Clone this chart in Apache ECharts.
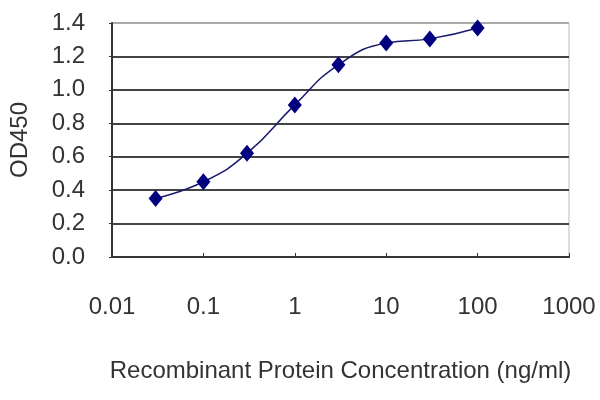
<!DOCTYPE html>
<html>
<head>
<meta charset="utf-8">
<script src="https://cdn.jsdelivr.net/npm/echarts@6/dist/echarts.min.js"></script>
<style>
html, body { margin: 0; padding: 0; background: #fff; }
#chart { width: 600px; height: 400px; }
</style>
</head>
<body>
<div id="chart"></div>
<script>
// 浓度 (ng/ml) 与 OD450 读数
var concentrations = [0.03, 0.1, 0.3, 1, 3, 10, 30, 100];
var od450 = [0.35, 0.45, 0.62, 0.91, 1.15, 1.28, 1.305, 1.37];
var xTickLabels = ['0.01', '0.1', '1', '10', '100', '1000'];
var yTickLabels = ['0.0', '0.2', '0.4', '0.6', '0.8', '1.0', '1.2', '1.4'];

var chartManager = {
    initChart: function () {
        var myChart = echarts.init(document.getElementById('chart'));
        var points = [];
        for (var i = 0; i < concentrations.length; i++) {
            points.push([concentrations[i], od450[i]]);
        }
        var textStyle = { fontFamily: 'Liberation Sans, Arial, sans-serif', fontSize: 24, color: '#333' };
        var option = {
            animation: false,
            grid: {
                left: 111, top: 23, right: 31, bottom: 143,
                show: true, borderColor: '#bbb', borderWidth: 1
            },
            xAxis: {
                type: 'log',
                logBase: 10,
                min: 0.01,
                max: 1000,
                name: 'Recombinant Protein Concentration (ng/ml)',
                nameLocation: 'middle',
                nameGap: 102,
                nameTextStyle: textStyle,
                axisLine: { lineStyle: { color: '#333', width: 2 } },
                axisTick: { inside: true, length: 4, lineStyle: { color: '#333' } },
                axisLabel: {
                    margin: 38,
                    fontFamily: textStyle.fontFamily, fontSize: 24, color: '#333',
                    formatter: function (v) {
                        var idx = Math.round(Math.log(v) / Math.LN10) + 2;
                        return xTickLabels[idx] || '';
                    }
                },
                splitLine: { show: false }
            },
            yAxis: {
                type: 'value',
                min: 0,
                max: 1.4,
                interval: 0.2,
                name: 'OD450',
                nameLocation: 'middle',
                nameGap: 80,
                nameTextStyle: textStyle,
                axisLine: { show: true, lineStyle: { color: '#333', width: 2 } },
                axisTick: { show: true, length: 3, lineStyle: { color: '#333' } },
                axisLabel: {
                    margin: 27,
                    fontFamily: textStyle.fontFamily, fontSize: 24, color: '#333',
                    formatter: function (v) {
                        return yTickLabels[Math.round(v / 0.2)];
                    }
                },
                splitLine: {
                    show: true,
                    lineStyle: {
                        color: ['#444', '#444', '#444', '#444', '#444', '#444', '#444', '#aaa'],
                        width: 2
                    }
                }
            },
            series: [{
                type: 'line',
                data: points,
                smooth: true,
                symbol: 'diamond',
                symbolSize: [14, 17],
                itemStyle: { color: '#00007f' },
                lineStyle: { color: '#1a1a6e', width: 1.5 }
            }]
        };
        myChart.setOption(option);
    }
};
chartManager.initChart();
</script>
</body>
</html>
